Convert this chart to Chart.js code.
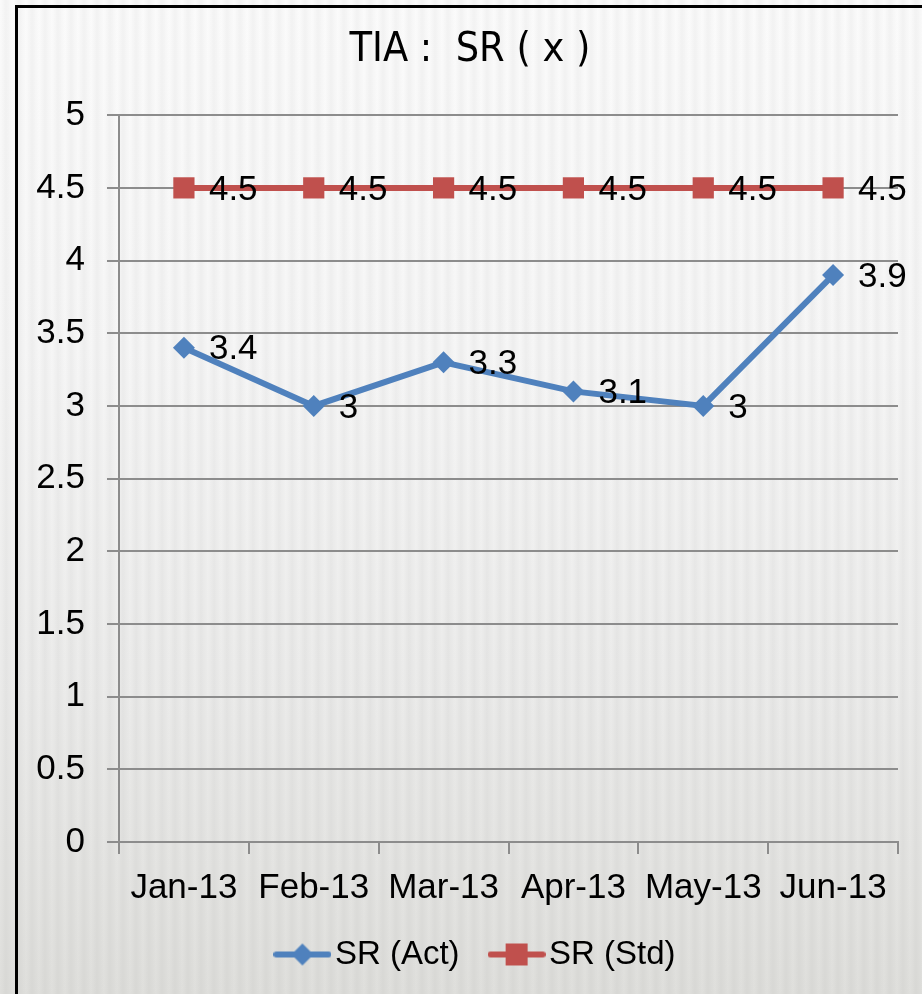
<!DOCTYPE html>
<html>
<head>
<meta charset="utf-8">
<script src="https://cdn.jsdelivr.net/npm/chart.js@4.4.1/dist/chart.umd.min.js"></script>
<style>
  html, body { margin: 0; padding: 0; }
  #wrap {
    position: relative;
    width: 922px;
    height: 994px;
    overflow: hidden;
    background:
      repeating-linear-gradient(90deg, rgba(0,0,0,0) 0px, rgba(0,0,0,0.035) 6px, rgba(0,0,0,0) 13px),
      linear-gradient(180deg, #fbfbfb 0%, #f6f6f6 35%, #ebebea 70%, #dfdfdc 100%);
  }
  #frame {
    position: absolute;
    left: 15px;
    top: 5px;
    width: 940px;
    height: 1000px;
    border-left: 3px solid #000;
    border-top: 3px solid #000;
  }
  canvas { position: absolute; left: 0; top: 0; }
</style>
</head>
<body>
<div id="wrap">
  <div id="frame"></div>
  <canvas id="lineChart" width="922" height="994"></canvas>
</div>
<script>
const categories = ['Jan-13', 'Feb-13', 'Mar-13', 'Apr-13', 'May-13', 'Jun-13'];
const actValues = [3.4, 3, 3.3, 3.1, 3, 3.9]; // SR (Act)
const stdValues = [4.5, 4.5, 4.5, 4.5, 4.5, 4.5]; // SR (Std)
const yTicks = [0, 0.5, 1, 1.5, 2, 2.5, 3, 3.5, 4, 4.5, 5];

const blue = '#4f81bd';
const red = '#c0504d';
const gridGray = '#8c8c8c';
const family = '"Liberation Sans", Arial, sans-serif';

// little line + marker pictures for the legend
const makeIcon = (color, shape) => {
  const c = document.createElement('canvas');
  c.width = 58;
  c.height = 26;
  const g = c.getContext('2d');
  g.strokeStyle = color;
  g.fillStyle = color;
  g.lineWidth = 6;
  g.lineCap = 'round';
  g.beginPath();
  g.moveTo(3, 13);
  g.lineTo(55, 13);
  g.stroke();
  if (shape === 'diamond') {
    g.beginPath();
    g.moveTo(29, 2);
    g.lineTo(40, 13);
    g.lineTo(29, 24);
    g.lineTo(18, 13);
    g.closePath();
    g.fill();
  } else {
    g.fillRect(18, 2, 22, 22);
  }
  return c;
};
const legendIcons = [makeIcon(blue, 'diamond'), makeIcon(red, 'square')];

// value labels to the right of each point
const pointLabels = {
  id: 'pointLabels',
  afterDatasetsDraw(chart) {
    const ctx = chart.ctx;
    ctx.save();
    ctx.font = '35px ' + family;
    ctx.fillStyle = '#000';
    ctx.textBaseline = 'middle';
    ctx.textAlign = 'left';
    chart.data.datasets.forEach((ds, i) => {
      chart.getDatasetMeta(i).data.forEach((pt, j) => {
        ctx.fillText(String(ds.data[j]), pt.x + 25, pt.y + 2);
      });
    });
    ctx.restore();
  },
};

// title and legend sit a bit right of the canvas centre in the original
const nudge = {
  id: 'nudge',
  afterLayout(chart) {
    const t = chart.titleBlock;
    t.left += 12;
    t.right += 12;
    const l = chart.legend;
    l.left += 23;
    l.right += 23;
    l.top -= 13;
    l.bottom -= 13;
  },
};

const ctx = document.getElementById('lineChart');
const lineChart = new Chart(ctx, {
  type: 'line',
  data: {
    labels: categories,
    datasets: [{
      label: 'SR (Act)',
      data: actValues,
      borderColor: blue,
      backgroundColor: blue,
      borderWidth: 6,
      pointStyle: 'rectRot',
      pointRadius: 11,
      pointBorderWidth: 0,
      tension: 0,
      clip: false,
    }, {
      label: 'SR (Std)',
      data: stdValues,
      borderColor: red,
      backgroundColor: red,
      borderWidth: 6,
      pointStyle: 'rect',
      pointRadius: 15,
      pointBorderWidth: 0,
      tension: 0,
      clip: false,
    }],
  },
  options: {
    responsive: false,
    animation: false,
    layout: { padding: { left: 18, right: 24, top: 8, bottom: 0 } },
    plugins: {
      title: {
        display: true,
        text: 'TIA :  SR ( x )',
        color: '#000',
        font: { family: '"Liberation Sans Narrow", "DejaVu Sans Condensed", sans-serif', size: 41, weight: 'normal' },
        padding: { top: 18, bottom: 40 },
      },
      legend: {
        position: 'bottom',
        labels: {
          usePointStyle: true,
          pointStyleWidth: 32,
          color: '#000',
          padding: 41,
          font: { family: family, size: 33 },
          generateLabels: (chart) => chart.data.datasets.map((ds, i) => ({
            text: ds.label,
            pointStyle: legendIcons[i],
            fillStyle: ds.borderColor,
            strokeStyle: ds.borderColor,
            lineWidth: 0,
            hidden: false,
            datasetIndex: i,
            fontColor: '#000',
          })),
        },
      },
      tooltip: { enabled: false },
    },
    scales: {
      x: {
        offset: true,
        grid: {
          offset: true,
          drawOnChartArea: false,
          drawTicks: true,
          tickLength: 12,
          color: gridGray,
          lineWidth: 2,
        },
        border: { color: gridGray, width: 2 },
        ticks: {
          color: '#000',
          font: { family: family, size: 35 },
          padding: 13,
          maxRotation: 0,
          autoSkip: false,
        },
        afterFit: (scale) => { scale.height = 68; },
      },
      y: {
        min: 0,
        max: 5,
        afterBuildTicks: (scale) => { scale.ticks = yTicks.map((v) => ({ value: v })); },
        ticks: {
          color: '#000',
          padding: 22,
          font: { family: family, size: 35 },
          callback: (v) => String(v),
        },
        grid: { color: gridGray, lineWidth: 2, tickLength: 12 },
        border: { color: gridGray, width: 2 },
        afterFit: (scale) => { scale.width = 101; },
      },
    },
  },
  plugins: [pointLabels, nudge],
});
</script>
</body>
</html>
